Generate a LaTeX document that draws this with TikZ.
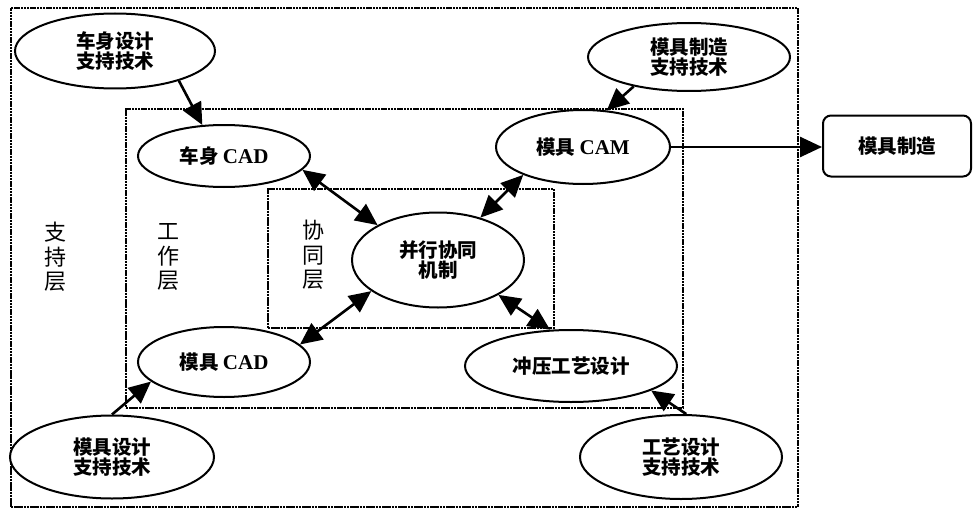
\documentclass[tikz,border=0pt]{standalone}
\usepackage{fontspec}
\newfontfamily\cjk{Noto Sans CJK SC}
\newfontfamily\latf{Liberation Serif}
\usetikzlibrary{shapes.geometric,arrows.meta}
\newcommand{\lt}[1]{{\latf\bfseries\fontsize{21}{21}\selectfont #1}}
\begin{document}
\begin{tikzpicture}[x=1pt,y=-1pt,
  ell/.style={ellipse,draw,fill=white,line width=2pt,inner sep=0pt,align=center,
    font=\cjk\bfseries\fontsize{19.5}{20}\selectfont},
  layerbox/.style={draw,line width=1.6pt,dash pattern=on 2.5pt off 0.7pt,inner sep=0pt,anchor=north west},
  lbl/.style={align=center,font=\cjk\fontsize{22}{24.5}\selectfont},
  arr/.style={line width=2.6pt,-{Triangle[length=22pt,width=20pt]}},
  darr/.style={line width=2.6pt,{Triangle[length=22pt,width=20pt]}-{Triangle[length=22pt,width=20pt]}}]
\useasboundingbox (0,0) rectangle (973,508);
% layer boxes
\node[layerbox, minimum width=787pt, minimum height=499pt] (sup) at (10,7) {};
\node[layerbox, minimum width=557pt, minimum height=299pt] (work) at (125,108) {};
\node[layerbox, minimum width=286pt, minimum height=139pt] (coop) at (267,188) {};
% layer labels
\node[lbl] (lsup) at (55,257) {支\\持\\层};
\node[lbl] (lwork) at (168,257) {工\\作\\层};
\node[lbl] (lcoop) at (313,255) {协\\同\\层};
% ellipses
\node[ell, minimum width=200pt, minimum height=75pt] (s1) at (115,51) {车身设计\\支持技术};
\node[ell, minimum width=202pt, minimum height=68pt] (s2) at (689,57) {模具制造\\支持技术};
\node[ell, minimum width=204pt, minimum height=83pt] (s3) at (112,457) {模具设计\\支持技术};
\node[ell, minimum width=202pt, minimum height=84pt] (s4) at (681,457) {工艺设计\\支持技术};
\node[ell, minimum width=172pt, minimum height=62pt] (w1) at (224,156) {车身 \lt{CAD}};
\node[ell, minimum width=174pt, minimum height=74pt] (w2) at (583,147) {模具 \lt{CAM}};
\node[ell, minimum width=172pt, minimum height=70pt] (w3) at (224,362) {模具 \lt{CAD}};
\node[ell, minimum width=212pt, minimum height=72pt] (w4) at (571,366) {冲压工艺设计};
\node[ell, minimum width=172pt, minimum height=95pt] (c) at (438,260) {并行协同\\机制};
% manufacturing box
\node[draw, line width=2pt, rounded corners=8pt, minimum width=148pt, minimum height=61pt,
  font=\cjk\bfseries\fontsize{19.5}{20}\selectfont] (mfg) at (897,146) {模具制造};
% arrows
\draw[arr] (s1.-25) -- (w1.125);
\draw[arr] (s2.-152) -- (w2.57);
\draw[arr] (s3.90) -- (w3.-165);
\draw[arr] (s4.83) -- (w4.-17);
\draw[darr] (w1.-10) -- (c.150);
\draw[darr] (w2.-155) -- (c.45);
\draw[darr] (w3.13) -- (c.-155);
\draw[darr] (c.-30) -- (w4.120);
\draw[arr] (w2.east) -- (w2.east -| mfg.west);
\end{tikzpicture}
\end{document}
